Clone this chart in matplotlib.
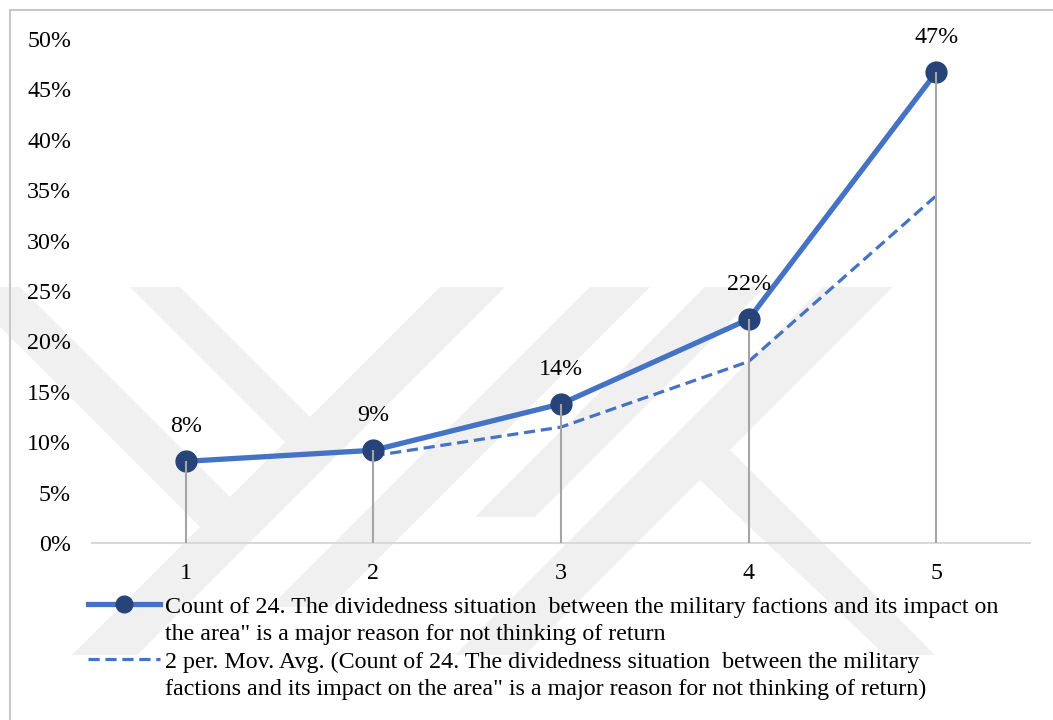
import matplotlib.pyplot as plt
import numpy as np
import pandas as pd
from matplotlib.lines import Line2D
from matplotlib.patches import Polygon, Rectangle

plt.rcParams['font.family'] = ['Liberation Serif', 'DejaVu Serif']

# Share of answers per rating (1..5)
ratings = [1, 2, 3, 4, 5]
share = [8.1, 9.2, 13.8, 22.2, 46.7]
y_ticks = [0, 5, 10, 15, 20, 25, 30, 35, 40, 45, 50]

label_main = ["Count of 24. The dividedness situation  between the military factions and its impact on",
              "the area\" is a major reason for not thinking of return"]
label_avg = ["2 per. Mov. Avg. (Count of 24. The dividedness situation  between the military",
             "factions and its impact on the area\" is a major reason for not thinking of return)"]

# 2 period moving average trendline
mov_avg = pd.Series(share).rolling(2).mean()

blue = '#4472C4'
navy = '#264478'
fs = 17.25
W, H = 1053, 720

fig = plt.figure(figsize=(W / 100, H / 100), dpi=100)

def px(pts):
    return [(x / W, 1 - y / H) for x, y in pts]

# faint background logo stripes (pixel outlines)
logo = [
    [(-40, 287), (20, 287), (230, 497), (200, 527)],
    [(130, 287), (180, 287), (310, 417), (285, 442)],
    [(440, 287), (505, 287), (137, 655), (72, 655)],
    [(590, 287), (650, 287), (330, 607), (270, 607)],
    [(705, 287), (765, 287), (535, 517), (475, 517)],
    [(823, 287), (893, 287), (525, 655), (455, 655)],
    [(700, 480), (730, 450), (935, 655), (885, 655)],
]
for shape in logo:
    fig.add_artist(Polygon(px(shape), closed=True, transform=fig.transFigure,
                           facecolor='#F0F0F0', edgecolor='none', zorder=-2))

# chart area border
fig.add_artist(Rectangle((10 / W, -0.1), 1.2, 1 - 9.5 / H + 0.1, transform=fig.transFigure,
                         facecolor='none', edgecolor='#C8C8C8', lw=1.5, zorder=-1))

ax = fig.add_axes([92 / W, 1 - 543 / H, (1030 - 92) / W, (543 - 39) / H])
ax.patch.set_alpha(0)
ax.set_xlim(0.5, 5.5)
ax.set_ylim(0, 50)

for s in ['top', 'right', 'left']:
    ax.spines[s].set_visible(False)
ax.spines['bottom'].set_color('#D9D9D9')
ax.spines['bottom'].set_linewidth(1.5)

ax.plot(ratings[1:], mov_avg[1:], color=blue, lw=2.3, ls=(0, (3.5, 1.8)), zorder=2)
ax.plot(ratings, share, color=blue, lw=3.8, marker='o', ms=15,
        mfc=navy, mec=navy, zorder=3)
ax.vlines(ratings, 0, share, color='#A5A5A5', lw=1.5, zorder=4)

for x, v in zip(ratings, share):
    ax.annotate(f"{v:.0f}%", (x, v), xytext=(0, 25), textcoords='offset points',
                ha='center', va='center', fontsize=fs, color='#000000')

ax.set_xticks(ratings)
ax.set_xticklabels([str(r) for r in ratings])
ax.set_yticks(y_ticks)
ax.set_yticklabels([f"{t}%" for t in y_ticks])
ax.tick_params(axis='both', length=0, labelsize=fs, colors='#000000')
ax.tick_params(axis='y', pad=15)
ax.tick_params(axis='x', pad=14.5)

blank = Line2D([], [], color='none')
handles = [Line2D([], [], color=blue, lw=3.8, marker='o', ms=12, mfc=navy, mec=navy),
           blank,
           Line2D([], [], color=blue, lw=2.3, ls=(0, (3.5, 1.8))),
           blank]
labels = [label_main[0], label_main[1], label_avg[0], label_avg[1]]
fig.legend(handles, labels, loc='upper left', bbox_to_anchor=(88 / W, 1 - 596 / H),
           frameon=False, borderpad=0, borderaxespad=0, fontsize=fs,
           handlelength=3.0, handletextpad=0.2, labelspacing=0.24)

fig.savefig('out.png', dpi=100)
